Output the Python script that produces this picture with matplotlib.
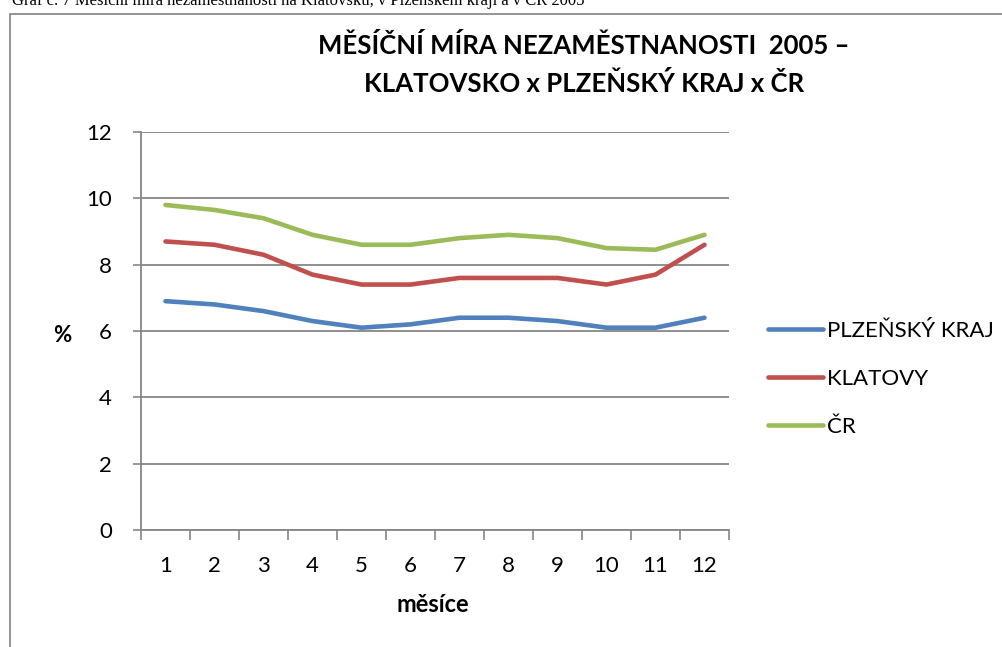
import matplotlib
matplotlib.use("Agg")
import matplotlib.pyplot as plt
from matplotlib.patches import Rectangle
from matplotlib.lines import Line2D

months = [str(m) for m in range(1, 13)]
plzensky = [6.9, 6.8, 6.6, 6.3, 6.1, 6.2, 6.4, 6.4, 6.3, 6.1, 6.1, 6.4]
klatovy = [8.7, 8.6, 8.3, 7.7, 7.4, 7.4, 7.6, 7.6, 7.6, 7.4, 7.7, 8.6]
cr = [9.8, 9.65, 9.4, 8.9, 8.6, 8.6, 8.8, 8.9, 8.8, 8.5, 8.45, 8.9]
series_names = ["PLZEŇSKÝ KRAJ", "KLATOVY", "ČR"]
colors = ["#4F81BD", "#C0504D", "#9BBB59"]
yticks = [0, 2, 4, 6, 8, 10, 12]

plt.rcParams['font.family'] = ['Lato', 'DejaVu Sans']

W, H = 1003, 647
fig = plt.figure(figsize=(W / 100, H / 100), dpi=100)

# caption (cut off at top, as in the source)
fig.text(0.012, 1 - 5 / H, "Graf č. 7 Měsíční míra nezaměstnanosti na Klatovsku, v Plzeňském kraji a v ČR 2005",
         family=['Liberation Serif'], fontsize=12, va='baseline', ha='left', color='black')

# chart frame
fig.patches.append(Rectangle((10 / W, -0.1), 1.2, 1 - 14 / H + 0.1, transform=fig.transFigure,
                             fill=False, edgecolor='#8c8c8c', linewidth=1.3))

ax = fig.add_axes([141 / W, 1 - 530 / H, (729 - 141) / W, (530 - 132) / H])
x = list(range(12))
for vals, name, c in zip([plzensky, klatovy, cr], series_names, colors):
    ax.plot(x, vals, color=c, linewidth=3.3, label=name, solid_capstyle='round', solid_joinstyle='round')

ax.set_xlim(-0.5, 11.5)
ax.set_ylim(0, 12)
ax.set_yticks(yticks)
ax.set_yticklabels([str(t) for t in yticks], fontsize=16)
ax.set_xticks(x)
ax.set_xticklabels(months, fontsize=16)
ax.set_xticks([i - 0.5 for i in range(13)], minor=True)
ax.tick_params(axis='x', which='major', length=0, pad=19)
ax.tick_params(axis='x', which='minor', length=7, width=1.2, color='#868686', direction='out')
ax.tick_params(axis='y', length=6, width=1.2, color='#868686', direction='out', pad=15)
ax.grid(axis='y', color='#868686', linewidth=1.3)
ax.set_axisbelow(True)
for s in ['top', 'right']:
    ax.spines[s].set_visible(False)
for s in ['left', 'bottom']:
    ax.spines[s].set_color('#868686')
    ax.spines[s].set_linewidth(1.3)

fig.text(62 / W, 1 - 336 / H, "%", fontsize=16, fontweight='bold', ha='center', va='center')
fig.text(433 / W, 1 - 605 / H, "měsíce", fontsize=17, fontweight='bold', ha='center', va='center')

fig.text(584 / W, 1 - 46 / H, "MĚSÍČNÍ MÍRA NEZAMĚSTNANOSTI  2005 –", fontsize=18.5, fontweight='bold',
         ha='center', va='center')
fig.text(584 / W, 1 - 83 / H, "KLATOVSKO x PLZEŇSKÝ KRAJ x ČR", fontsize=18.5, fontweight='bold',
         ha='center', va='center')

handles = [Line2D([0], [0], color=c, linewidth=3.3, solid_capstyle='round') for c in colors]
fig.legend(handles, series_names, loc='center left', bbox_to_anchor=(757 / W, 1 - 379 / H),
           frameon=False, fontsize=16, handlelength=2.45, handletextpad=0.2, labelspacing=1.25,
           borderpad=0)

fig.savefig("out.png", dpi=100)
